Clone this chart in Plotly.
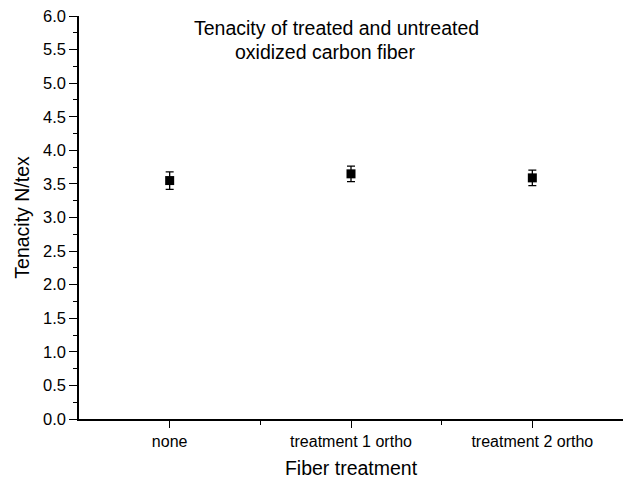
import plotly.graph_objects as go

# Fiber treatment categories and measured tenacity (N/tex) with error bars
treatments = ["none", "treatment 1 ortho", "treatment 2 ortho"]
tenacity = [3.55, 3.65, 3.59]
tenacity_err = [0.13, 0.115, 0.115]

y_ticks = [0.0, 0.5, 1.0, 1.5, 2.0, 2.5, 3.0, 3.5, 4.0, 4.5, 5.0, 5.5, 6.0]

positions = list(range(len(treatments)))
font = "Arial, Liberation Sans, sans-serif"

fig = go.Figure(
    go.Scatter(
        x=positions,
        y=tenacity,
        mode="markers",
        marker=dict(symbol="square", size=9, color="black"),
        error_y=dict(type="data", array=tenacity_err, visible=True,
                     color="black", thickness=1.3, width=4),
        showlegend=False,
    )
)

fig.update_layout(
    width=623,
    height=483,
    margin=dict(l=79, r=0, t=16, b=64),
    paper_bgcolor="white",
    plot_bgcolor="white",
    font=dict(family=font, color="black"),
    annotations=[
        dict(text="Tenacity of treated and untreated", xref="paper", yref="paper",
             x=(191.7 - 79) / 544, y=(419.3 - 28) / 403.3, xanchor="left", yanchor="middle",
             showarrow=False, font=dict(size=19.5, family=font, color="black")),
        dict(text="oxidized carbon fiber", xref="paper", yref="paper",
             x=(233.3 - 79) / 544, y=(419.3 - 52) / 403.3, xanchor="left", yanchor="middle",
             showarrow=False, font=dict(size=19.5, family=font, color="black")),
    ],
)

fig.update_xaxes(
    range=[-0.5, 2.5],
    tickmode="array",
    tickvals=positions,
    ticktext=treatments,
    ticks="outside",
    ticklen=7,
    tickwidth=1.3,
    tickcolor="black",
    minor=dict(tickmode="array", tickvals=[0.5, 1.5], ticks="outside",
               ticklen=4, tickwidth=1.3, tickcolor="black"),
    showline=True,
    linecolor="black",
    linewidth=1.5,
    showgrid=False,
    zeroline=False,
    tickfont=dict(size=16, family=font, color="black"),
    title=dict(text="Fiber treatment", font=dict(size=19.5, family=font, color="black"),
               standoff=12),
)

fig.update_yaxes(
    range=[0, 6],
    tickmode="array",
    tickvals=y_ticks,
    ticktext=[f"{v:.1f}" for v in y_ticks],
    ticks="outside",
    ticklen=8,
    tickwidth=1.3,
    tickcolor="black",
    minor=dict(dtick=0.25, tick0=0, ticks="outside", ticklen=4,
               tickwidth=1.3, tickcolor="black"),
    showline=True,
    linecolor="black",
    linewidth=1.5,
    showgrid=False,
    zeroline=False,
    tickfont=dict(size=16.5, family=font, color="black"),
    title=dict(text="Tenacity N/tex", font=dict(size=19.5, family=font, color="black"),
               standoff=8),
)

fig.write_html("out.html")
